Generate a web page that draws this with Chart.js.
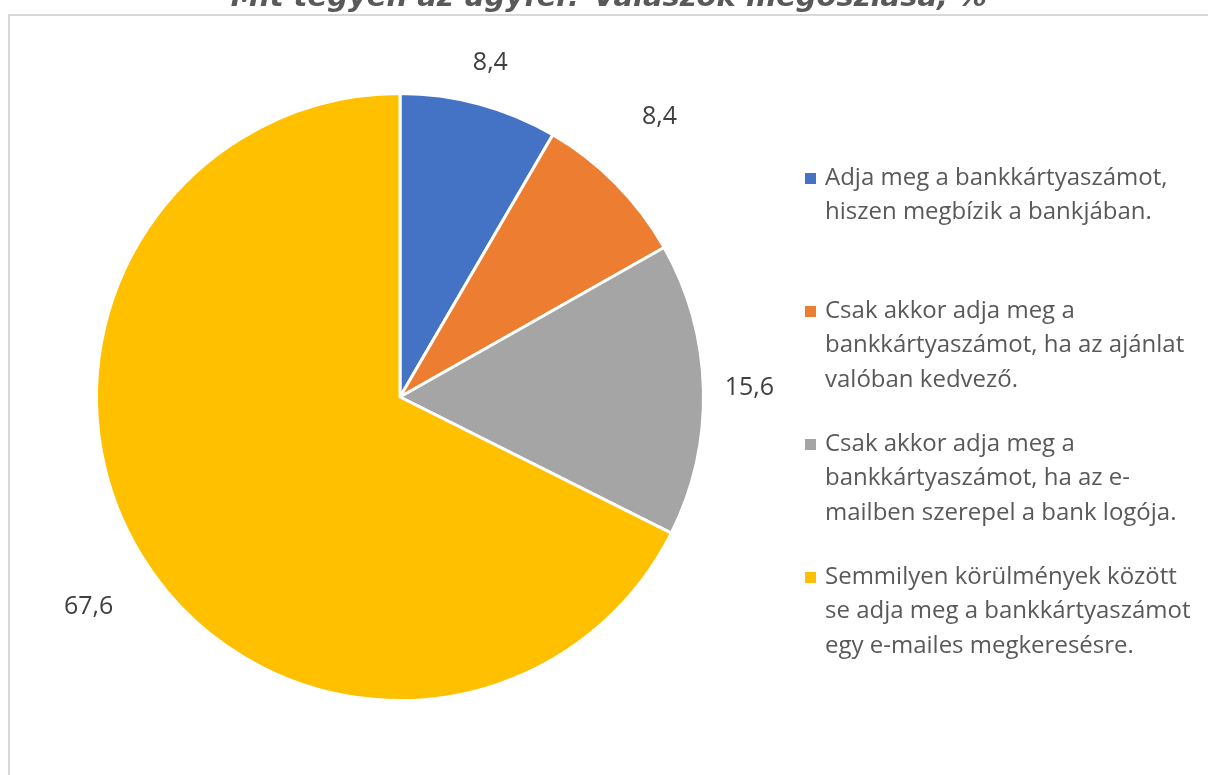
<!DOCTYPE html>
<html>
<head>
<meta charset="utf-8">
<script src="https://cdn.jsdelivr.net/npm/chart.js@4.4.0/dist/chart.umd.min.js"></script>
<style>
  html, body { margin: 0; padding: 0; background: #fff; overflow: hidden; }
  canvas { display: block; }
</style>
</head>
<body>
<canvas id="pieChart" width="1208" height="775"></canvas>
<script>
// ======= Adatok =======
const chartTitle = 'Mit tegyen az ügyfél? Válaszok megoszlása, %';
const categories = [
    ['Adja meg a bankkártyaszámot,', 'hiszen megbízik a bankjában.'],
    ['Csak akkor adja meg a', 'bankkártyaszámot, ha az ajánlat', 'valóban kedvező.'],
    ['Csak akkor adja meg a', 'bankkártyaszámot, ha az e-', 'mailben szerepel a bank logója.'],
    ['Semmilyen körülmények között', 'se adja meg a bankkártyaszámot', 'egy e-mailes megkeresésre.']
];
const shares = [8.4, 8.4, 15.6, 67.6];
const sliceColors = ['#4472C4', '#ED7D31', '#A5A5A5', '#FFC000'];

// címke helye: távolság a körív szélétől (px) és elforgatás a szelet közepéhez képest (fok)
const labelGap = [43, 78, 46, 72];
const labelTurn = [0, -2.5, 0, -2.3];

const fmt = v => v.toFixed(1).replace('.', ',');

// ======= Keret + cím =======
const framePlugin = {
    id: 'frame',
    beforeDraw(chart) {
        const ctx = chart.ctx;
        ctx.save();
        ctx.fillStyle = '#fff';
        ctx.fillRect(0, 0, chart.width, chart.height);
        ctx.strokeStyle = '#d9d9d9';
        ctx.lineWidth = 2;
        ctx.beginPath();
        ctx.moveTo(9, chart.height);
        ctx.lineTo(9, 15);
        ctx.lineTo(chart.width, 15);
        ctx.stroke();
        ctx.fillStyle = '#595959';
        ctx.font = 'italic bold 29px "DejaVu Sans"';
        ctx.textAlign = 'center';
        ctx.textBaseline = 'alphabetic';
        ctx.fillText(chartTitle, 609, 6);
        ctx.restore();
    }
};

// ======= Értékcímkék a szeletek mellett =======
const valueLabelPlugin = {
    id: 'valueLabels',
    afterDatasetsDraw(chart) {
        const ctx = chart.ctx;
        const meta = chart.getDatasetMeta(0);
        ctx.save();
        ctx.fillStyle = '#404040';
        ctx.font = '25px "Open Sans"';
        ctx.textAlign = 'center';
        ctx.textBaseline = 'middle';
        meta.data.forEach((arc, i) => {
            const p = arc.getProps(['x', 'y', 'startAngle', 'endAngle', 'outerRadius'], true);
            const mid = (p.startAngle + p.endAngle) / 2 + labelTurn[i] * Math.PI / 180;
            const r = p.outerRadius + labelGap[i];
            ctx.fillText(fmt(shares[i]), p.x + Math.cos(mid) * r, p.y + Math.sin(mid) * r);
        });
        ctx.restore();
    }
};

// ======= Jelmagyarázat (jobb oldal) =======
const legendPlugin = {
    id: 'sideLegend',
    afterDraw(chart) {
        const ctx = chart.ctx;
        const x0 = 805, top = 178, step = 133, lineH = 34.5;
        ctx.save();
        ctx.font = '24px "Open Sans"';
        ctx.textBaseline = 'middle';
        ctx.textAlign = 'left';
        categories.forEach((lines, i) => {
            const y = top + i * step;
            ctx.fillStyle = sliceColors[i];
            ctx.fillRect(x0, y - 5, 11, 11);
            ctx.fillStyle = '#595959';
            lines.forEach((t, j) => ctx.fillText(t, x0 + 20, y + j * lineH));
        });
        ctx.restore();
    }
};

new Chart(document.getElementById('pieChart').getContext('2d'), {
    type: 'pie',
    data: {
        labels: categories,
        datasets: [{
            data: shares,
            backgroundColor: sliceColors,
            borderColor: '#fff',
            borderWidth: 3
        }]
    },
    options: {
        responsive: false,
        animation: false,
        layout: { padding: { left: 95, top: 92, right: 503, bottom: 73 } },
        plugins: {
            legend: { display: false },
            tooltip: { enabled: false }
        }
    },
    plugins: [framePlugin, valueLabelPlugin, legendPlugin]
});
</script>
</body>
</html>
